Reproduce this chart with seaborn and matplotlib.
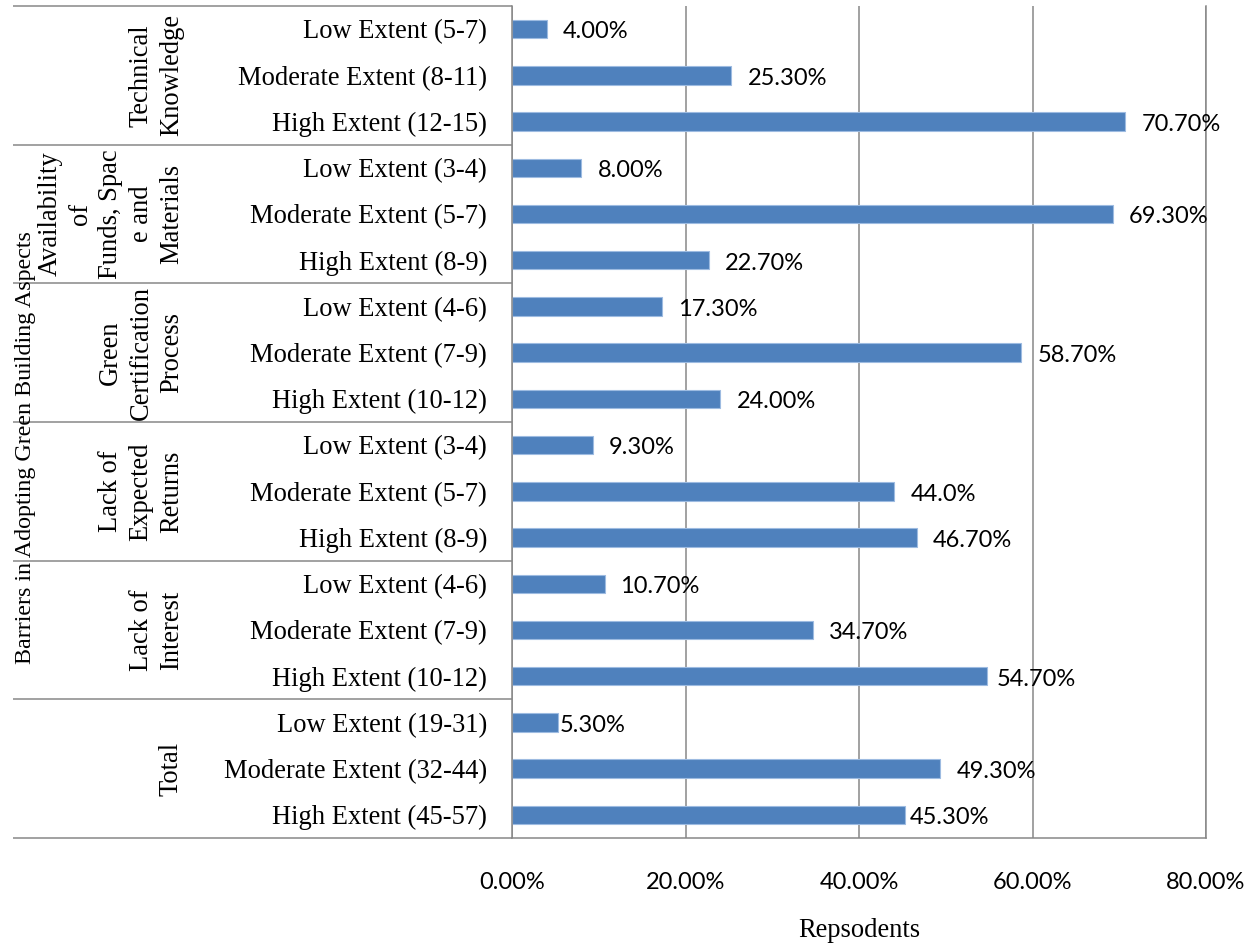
import matplotlib
matplotlib.use("Agg")
import matplotlib.pyplot as plt
import matplotlib.transforms as mtransforms
import numpy as np
import pandas as pd
import seaborn as sns

# ---- data -------------------------------------------------------------
groups = [
    "Technical\nKnowledge",
    "Availability\nof\nFunds, Spac\ne and\nMaterials",
    "Green\nCertification\nProcess",
    "Lack of\nExpected\nReturns",
    "Lack of\nInterest",
    "Total",
]
levels = [
    ["Low Extent (5-7)", "Moderate Extent (8-11)", "High Extent (12-15)"],
    ["Low Extent (3-4)", "Moderate Extent (5-7)", "High Extent (8-9)"],
    ["Low Extent (4-6)", "Moderate Extent (7-9)", "High Extent (10-12)"],
    ["Low Extent (3-4)", "Moderate Extent (5-7)", "High Extent (8-9)"],
    ["Low Extent (4-6)", "Moderate Extent (7-9)", "High Extent (10-12)"],
    ["Low Extent (19-31)", "Moderate Extent (32-44)", "High Extent (45-57)"],
]
value_labels = [
    ["4.00%", "25.30%", "70.70%"],
    ["8.00%", "69.30%", "22.70%"],
    ["17.30%", "58.70%", "24.00%"],
    ["9.30%", "44.0%", "46.70%"],
    ["10.70%", "34.70%", "54.70%"],
    ["5.30%", "49.30%", "45.30%"],
]
# gap (points) between bar end and its value label
label_gap = [
    [11.5, 11.5, 12],
    [12, 11.5, 11.5],
    [11.5, 11.5, 12],
    [11.5, 12, 11.5],
    [11, 11.5, 7],
    [1.5, 12, 3.5],
]
x_ticks = [0, 20, 40, 60, 80]
x_tick_labels = ["0.00%", "20.00%", "40.00%", "60.00%", "80.00%"]
outer_title = "Barriers in Adopting Green Building Aspects"
x_title = "Repsodents"

# ---- table ------------------------------------------------------------
rows = []
for g, (grp, lv, lab) in enumerate(zip(groups, levels, value_labels)):
    for k in range(3):
        rows.append({
            "row": 3 * g + k,
            "group": grp,
            "level": lv[k],
            "label": lab[k],
            "value": float(lab[k].rstrip("%")),
        })
df = pd.DataFrame(rows)

# ---- style ------------------------------------------------------------
sns.set_theme(style="white")
serif = "Liberation Serif"
sans = "Lato"
plt.rcParams["font.family"] = [serif, "DejaVu Serif"]
plt.rcParams.update({
    "text.color": "black",
    "axes.labelcolor": "black",
    "xtick.color": "black",
    "ytick.color": "black",
})

BAR = "#4F81BD"
LINE = "#878787"

W, H = 1255, 949
fig = plt.figure(figsize=(W / 100, H / 100), dpi=100)
ax = fig.add_axes([512 / W, 1 - 838 / H, (1206 - 512) / W, (838 - 6) / H])

sns.barplot(data=df, x="value", y="row", orient="h", color=BAR, width=0.4,
            edgecolor="#9dbbe1", linewidth=0.8, saturation=1, ax=ax,
            order=list(range(len(df))))

ax.set_xlim(0, 80)
ax.set_ylim(len(df) - 0.5, -0.5)
ax.set_xticks(x_ticks)
ax.set_xticklabels(x_tick_labels, fontfamily=sans, fontsize=17)
ax.set_yticks(df["row"])
ax.set_yticklabels(df["level"], fontfamily=serif, fontsize=19.1)
ax.tick_params(axis="y", length=0, pad=18)
ax.tick_params(axis="x", length=0, pad=24.5)
ax.set_ylabel("")
ax.set_xlabel(x_title, fontfamily=serif, fontsize=19.1, labelpad=18)

ax.xaxis.grid(True, color=LINE, linewidth=1.1)
ax.yaxis.grid(False)
ax.set_axisbelow(True)
ax.spines["top"].set_visible(False)
for side in ("left", "right", "bottom"):
    ax.spines[side].set_color(LINE)
    ax.spines[side].set_linewidth(1.1)

# value labels at the end of each bar
for _, r in df.iterrows():
    g, k = divmod(int(r["row"]), 3)
    ax.annotate(r["label"], xy=(r["value"], r["row"]),
                xytext=(label_gap[g][k], -2), textcoords="offset points",
                ha="left", va="center", fontfamily=sans, fontsize=17,
                color="black", annotation_clip=False)

# group frame on the left of the axis
left_x = (13 - 512) / (1206 - 512)
trans = mtransforms.blended_transform_factory(ax.transAxes, ax.transData)
for yb in np.arange(-0.5, len(df), 3):
    ax.plot([left_x, 0], [yb, yb], transform=trans, color=LINE,
            linewidth=1.1, clip_on=False, solid_capstyle="butt")

# group names, rotated, next to their rows
grp_x = (184 - 512) / (1206 - 512)
for g, grp in enumerate(groups):
    ax.text(grp_x, 3 * g + 1, grp, transform=trans, rotation=90,
            ha="right", va="center", multialignment="center",
            fontfamily=serif, fontsize=19.1, linespacing=1.28)

ax.text((26 - 512) / (1206 - 512), 1 - (447.5 - 6) / 832, outer_title,
        transform=ax.transAxes, rotation=90, ha="center", va="center",
        fontfamily=serif, fontsize=17.3)

fig.savefig("out.png", dpi=100, facecolor="white")
